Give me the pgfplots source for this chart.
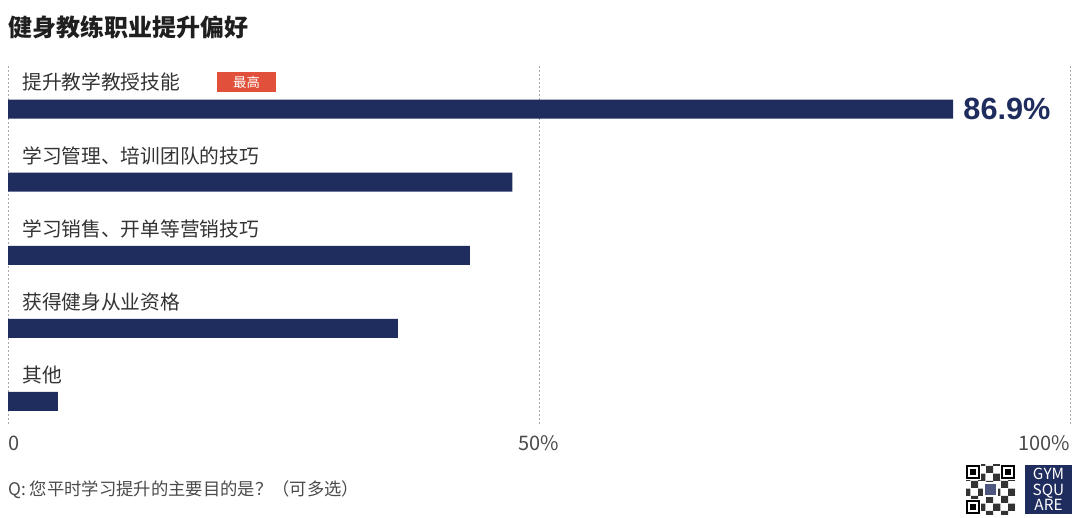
\documentclass[border=0pt]{standalone}
\usepackage{fontspec}
\setmainfont{Noto Sans CJK SC}
\newfontfamily\numfont{Liberation Sans}
\usepackage{pgfplots}
\pgfplotsset{compat=1.18}
\usetikzlibrary{patterns}

\definecolor{navy}{HTML}{1F2C5E}
\definecolor{badge}{HTML}{E0503A}
\definecolor{labelgray}{HTML}{333333}
\definecolor{tickgray}{HTML}{4A4A4A}
\definecolor{gridgray}{HTML}{AAAAAA}

% 1 px of the reference = 0.75pt
\tikzset{
  catlabel/.style={anchor=west, inner sep=0pt, xshift=10.5pt, yshift=20pt,
    text=labelgray, font=\fontsize{14.8}{17}\selectfont},
  ticklab/.style={inner sep=0pt, yshift=-14.25pt, text=tickgray,
    font=\fontsize{15}{17}\selectfont},
}

\begin{document}
\begin{tikzpicture}
\begin{scope}[x=0.75pt, y=0.75pt]
\useasboundingbox (0,0) rectangle (1080,517);

% title
\node[anchor=west, inner sep=0, text=black!88] at (8,490)
  {\fontsize{18}{20}\selectfont\bfseries 健身教练职业提升偏好};

% "highest" badge
\node[fill=badge, text=white, inner sep=0pt, minimum width=44.25pt, minimum height=15pt,
  font=\fontsize{10}{12}\selectfont] at (246.5,435) {最高};

% footer question
\node[anchor=west, inner sep=0pt, text=tickgray, font=\fontsize{13}{15}\selectfont]
  at (8,27) {Q: 您平时学习提升的主要目的是？（可多选）};

% QR code
\fill[pattern=checkerboard, pattern color=black!80] (966,3) rectangle (1015,52);
\foreach \qx/\qy in {966/38, 1001/38, 966/3} {
  \fill[white] (\qx-1,\qy-1) rectangle (\qx+15,\qy+15);
  \fill[black] (\qx,\qy) rectangle (\qx+14,\qy+14);
  \fill[white] (\qx+2,\qy+2) rectangle (\qx+12,\qy+12);
  \fill[black] (\qx+4,\qy+4) rectangle (\qx+10,\qy+10);
}
\fill[white] (983,20) rectangle (998,35);
\fill[navy!80] (985,22) rectangle (996,33);

% logo
\fill[navy] (1025,3) rectangle (1072,52);
\node[text=white, align=center, inner sep=0pt,
  font=\fontsize{11.5}{11.5}\selectfont] at (1048.5,27.5) {GYM\\SQU\\ARE};
\end{scope}

\begin{axis}[
    at={(6pt,69.75pt)}, anchor=south west,
    scale only axis,
    width=796.5pt, height=270pt,
    xbar, bar shift=0pt,
    xmin=0, xmax=100,
    ymin=0.692, ymax=5.616,
    xtick={0,50,100}, xticklabels={},
    ytick=\empty,
    major tick length=0pt,
    axis line style={draw=none},
    xmajorgrids,
    grid style={gridgray, line width=0.6pt, dash pattern=on 1.5pt off 1.5pt},
    clip=false,
]
\addplot[fill=navy, draw=none, bar width=14.25pt,
    point meta=explicit symbolic,
    nodes near coords,
    every node near coord/.style={anchor=west, inner sep=0pt, xshift=7.5pt,
        text=navy, font=\fontsize{23}{25}\selectfont\numfont\bfseries}]
  coordinates {
    (89.0,5) [86.9\%]
    (47.5,4) []
    (43.5,3) []
    (36.7,2) []
    (4.7,1)  []
  };

% category labels
\node[catlabel] at (axis cs:0,5) {提升教学教授技能};
\node[catlabel] at (axis cs:0,4) {学习管理、培训团队的技巧};
\node[catlabel] at (axis cs:0,3) {学习销售、开单等营销技巧};
\node[catlabel] at (axis cs:0,2) {获得健身从业资格};
\node[catlabel] at (axis cs:0,1) {其他};

% x tick labels
\node[ticklab, anchor=west] at (axis cs:0,0.692) {0};
\node[ticklab] at (axis cs:50,0.692) {50\%};
\node[ticklab, anchor=east] at (axis cs:100,0.692) {100\%};
\end{axis}
\end{tikzpicture}
\end{document}
